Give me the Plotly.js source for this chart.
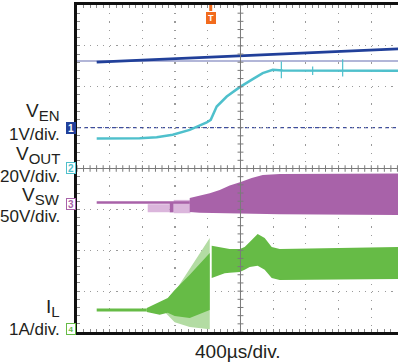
<!DOCTYPE html>
<html>
<head>
<meta charset="utf-8">
<script src="https://cdn.plot.ly/plotly-3.0.1.min.js"></script>
<style>
  html, body { margin: 0; padding: 0; background: #fff; }
  #scope { width: 398px; height: 364px; }
</style>
</head>
<body>
<div id="scope"></div>
<script>
// Time base: 400 µs per division, time counted from the left graticule edge (µs).
const usPerDiv = 400;
const visibleUs = 3927;

// Channel settings: volts (or amps) per division and the division where the channel's zero sits.
const chScale  = [1, 20, 50, 1];
const chOffset = [5.0, 4.0, 3.158, 0.05];

// CH1 — V_EN (V)
const venT = [241, 1134, 2000, 2969, 3960];
const venV = [1.60, 1.68, 1.76, 1.84, 1.93];
const venCursor = 1.63;

// CH2 — V_OUT (V)
const voutT = [241, 767, 975, 1171, 1379, 1501, 1587, 1636, 1709, 1832, 1991, 2150, 2272, 2395, 2517, 3960];
const voutV = [14.7, 14.8, 15.3, 16.5, 18.9, 20.9, 22.5, 23.8, 30.3, 35.2, 39.8, 43.7, 46.7, 48.3, 47.9, 47.8];
const voutSpikeT  = [2500, 2883, 3250];
const voutSpikeHi = [52.3, 49.9, 53.5];
const voutSpikeLo = [44.2, 45.8, 45.0];

// CH3 — V_SW (V): idle trace, early bursts, then the switching envelope
const vswIdleT = [241, 1379];
const vswIdleV = [0.4, 0.4];
const vswBurstStart = [865, 1134, 1183];
const vswBurstEnd   = [1134, 1183, 1387];
const vswBurstHi    = [-1.6, 0.5, 3.7];
const vswBurstLo    = [-11.4, -11.6, -12.6];
const vswBurstDense = [false, true, false];
const vswT  = [1379, 1501, 1624, 1746, 1868, 2003, 2137, 2272, 2480, 3960];
const vswHi = [6.1, 8.6, 11.9, 15.9, 21.4, 25.7, 30.6, 34.3, 35.5, 36.1];
const vswLo = [-11.0, -12.0, -12.5, -12.9, -12.9, -13.0, -13.2, -13.5, -14.0, -14.7];

// CH4 — I_L (A): idle, soft-start ramp (dense + sparse persistence), then regulation
const ilIdleT = [241, 854];
const ilIdleA = [0.49, 0.49];
const ilRampT  = [854, 1012, 1110, 1195, 1379, 1624];
const ilRampHi = [0.54, 0.68, 0.78, 0.98, 1.35, 1.88];
const ilRampLo = [0.44, 0.37, 0.42, 0.34, 0.29, 0.49];
const ilPeakT  = [1012, 1073, 1195, 1379, 1624];
const ilPeakHi = [0.49, 0.61, 0.93, 1.49, 2.25];
const ilPeakLo = [0.49, 0.44, 0.19, 0.07, 0.02];
const ilT  = [1648, 1807, 1868, 1991, 2051, 2113, 2137, 2210, 2296, 2382, 2480, 3960];
const ilHi = [2.06, 2.00, 1.98, 1.98, 2.03, 2.15, 2.20, 2.35, 2.25, 2.03, 1.98, 2.03];
const ilLo = [1.27, 1.39, 1.40, 1.42, 1.47, 1.54, 1.55, 1.57, 1.47, 1.27, 1.22, 1.25];

// Trigger position (µs)
const triggerT = 1636;

const colors = {
  en: '#21409a', out: '#4fc0cc', sw: '#a862a9', swLight: '#dbb6dc',
  il: '#66bb46', ilLight: '#b3dca3', ink: '#231f20', grid: '#9a9a9a'
};

function band(t, hi, lo) {
  return { x: t.concat(t.slice().reverse()), y: hi.concat(lo.slice().reverse()) };
}
function area(b, yaxis, color) {
  return { x: b.x, y: b.y, yaxis: yaxis, type: 'scatter', mode: 'lines', fill: 'toself',
           fillcolor: color, line: { width: 0, color: color }, hoverinfo: 'skip' };
}
function line(x, y, yaxis, color, width) {
  return { x: x, y: y, yaxis: yaxis, type: 'scatter', mode: 'lines',
           line: { color: color, width: width }, hoverinfo: 'skip' };
}

const traces = [];

// V_SW
vswBurstStart.forEach((t0, i) => {
  const b = band([t0, vswBurstEnd[i]], [vswBurstHi[i], vswBurstHi[i]], [vswBurstLo[i], vswBurstLo[i]]);
  traces.push(area(b, 'y4', vswBurstDense[i] ? colors.sw : colors.swLight));
});
traces.push(area(band(vswT, vswHi, vswLo), 'y4', colors.sw));
traces.push(line(vswIdleT, vswIdleV, 'y4', colors.sw, 2.5));

// I_L
traces.push(area(band(ilPeakT, ilPeakHi, ilPeakLo), 'y5', colors.ilLight));
traces.push(area(band(ilRampT, ilRampHi, ilRampLo), 'y5', colors.il));
traces.push(area(band(ilT, ilHi, ilLo), 'y5', colors.il));
traces.push(line(ilIdleT, ilIdleA, 'y5', colors.il, 3));

// V_OUT with its switching spikes
traces.push(line(voutT, voutV, 'y3', colors.out, 2.5));
const spikeX = [], spikeY = [];
voutSpikeT.forEach((t, i) => { spikeX.push(t, t, null); spikeY.push(voutSpikeLo[i], voutSpikeHi[i], null); });
traces.push(line(spikeX, spikeY, 'y3', colors.out, 1.2));

// V_EN
traces.push(line(venT, venV, 'y2', colors.en, 2.8));

// Graticule centre cross with 0.2-division ticks
const tickColor = '#7a7a7a';
const shapes = [
  { type: 'line', xref: 'x', yref: 'y', x0: 0, x1: 4000, y0: 4, y1: 4, line: { color: tickColor, width: 1 } },
  { type: 'line', xref: 'x', yref: 'y', x0: 5 * usPerDiv, x1: 5 * usPerDiv, y0: 0, y1: 8, line: { color: tickColor, width: 1 } }
];
for (let i = 0; i <= 50; i++) {
  shapes.push({ type: 'line', xref: 'x', yref: 'y', x0: i * usPerDiv / 5, x1: i * usPerDiv / 5,
                y0: 4 - 0.08, y1: 4 + 0.08, line: { color: tickColor, width: 1 } });
}
for (let j = 0; j <= 40; j++) {
  shapes.push({ type: 'line', xref: 'x', yref: 'y', x0: 5 * usPerDiv - 36, x1: 5 * usPerDiv + 36,
                y0: j / 5, y1: j / 5, line: { color: tickColor, width: 1 } });
}
// CH1 ground reference and level cursor
shapes.push({ type: 'line', xref: 'paper', yref: 'y2', x0: 0, x1: 1, y0: 0, y1: 0, layer: 'between',
              line: { color: '#3d4d9e', width: 1.3, dash: '4px,3px' } });
shapes.push({ type: 'line', xref: 'paper', yref: 'y2', x0: 0, x1: 1, y0: venCursor, y1: venCursor, layer: 'between',
              line: { color: '#b2b6d8', width: 2 } });
// Trigger pointer on the top edge
shapes.push({ type: 'rect', xref: 'x', yref: 'paper', xsizemode: 'pixel', ysizemode: 'pixel',
              xanchor: triggerT, yanchor: 1, x0: -1.5, x1: 1.5, y0: -6, y1: 0,
              fillcolor: '#f26b1d', line: { width: 0 } });

// Channel range for each overlay axis: zero sits at chOffset divisions from the bottom
function chRange(k) { return [-chOffset[k] * chScale[k], (8 - chOffset[k]) * chScale[k]]; }
function overlay(k) {
  return { overlaying: 'y', range: chRange(k), visible: false, fixedrange: true };
}

const W = 398, H = 364, mL = 77, mT = 5, mB = 32;
const plotW = W - mL, plotH = H - mT - mB;
const px2x = (px) => (px - mL) / plotW;
const py2y = (py) => (H - mB - py) / plotH;

const font = { family: '"Liberation Sans", Arial, Helvetica, sans-serif', color: colors.ink };
function label(text, py, size) {
  return { text: text, xref: 'paper', yref: 'paper', x: px2x(61.5), y: py2y(py), xanchor: 'right', yanchor: 'middle',
           showarrow: false, font: Object.assign({ size: size }, font) };
}
function symbol(main, sub) {
  return main + '<sub><span style="font-size:15px">' + sub + '</span></sub>';
}
function marker(text, py, color, filled, size) {
  return { text: '<b>' + text + '</b>', xref: 'paper', yref: 'paper', x: px2x(76), y: py2y(py),
           xanchor: 'right', yanchor: 'middle', showarrow: false, width: 7, height: 9, borderpad: 0.5,
           bgcolor: filled ? color : '#ffffff', bordercolor: color, borderwidth: 1,
           font: { family: font.family, size: size, color: filled ? '#ffffff' : color } };
}

const annotations = [
  label(symbol('V', 'EN'), 112, 19),
  label('1V/div.', 134.5, 17),
  label(symbol('V', 'OUT'), 154.5, 19),
  label('20V/div.', 176.5, 17),
  label(symbol('V', 'SW'), 196, 19),
  label('50V/div.', 216, 17),
  label(symbol('I', 'L'), 308, 19),
  label('1A/div.', 329.5, 17),
  { text: '400µs/div.', xref: 'paper', yref: 'paper', x: px2x(238), y: py2y(351), xanchor: 'center', yanchor: 'middle',
    showarrow: false, font: Object.assign({ size: 19 }, font) },
  marker('1', 128, colors.en, true, 10),
  marker('2', 168, colors.out, false, 10),
  marker('3', 204, colors.sw, false, 10),
  marker('4', 329, colors.il, false, 8),
  { text: '<b>T</b>', xref: 'x', yref: 'paper', x: triggerT, y: 1, yshift: -7, xanchor: 'center', yanchor: 'top',
    showarrow: false, width: 7, height: 9, borderpad: 0.5, bgcolor: '#f26b1d', bordercolor: '#f26b1d',
    font: { family: font.family, size: 9, color: '#ffffff' } }
];

const axisCommon = {
  showticklabels: false, zeroline: false, fixedrange: true,
  showgrid: true, gridcolor: colors.grid, gridwidth: 1.2,
  showline: true, linecolor: '#111111', linewidth: 2.6,
  ticks: 'inside', ticklen: 3, tickcolor: '#8a8a8a', tickwidth: 1
};

const layout = {
  width: W, height: H,
  margin: { l: mL, r: 0, t: mT, b: mB, pad: 0 },
  paper_bgcolor: '#ffffff', plot_bgcolor: '#ffffff',
  showlegend: false,
  xaxis: Object.assign({}, axisCommon, {
    range: [0, visibleUs], tick0: 0, dtick: usPerDiv, mirror: 'ticks', griddash: '1.2px,7px',
    minor: { dtick: usPerDiv / 5, ticks: 'inside', ticklen: 3, tickcolor: '#8a8a8a', showgrid: false }
  }),
  yaxis: Object.assign({}, axisCommon, {
    range: [0, 8], tick0: 0, dtick: 1, mirror: false, griddash: '1.2px,5.35px',
    minor: { dtick: 0.2, ticks: 'inside', ticklen: 3, tickcolor: '#8a8a8a', showgrid: false }
  }),
  yaxis2: overlay(0),
  yaxis3: overlay(1),
  yaxis4: overlay(2),
  yaxis5: overlay(3),
  shapes: shapes,
  annotations: annotations
};

Plotly.newPlot('scope', traces, layout, { staticPlot: true, displayModeBar: false });
</script>
</body>
</html>
